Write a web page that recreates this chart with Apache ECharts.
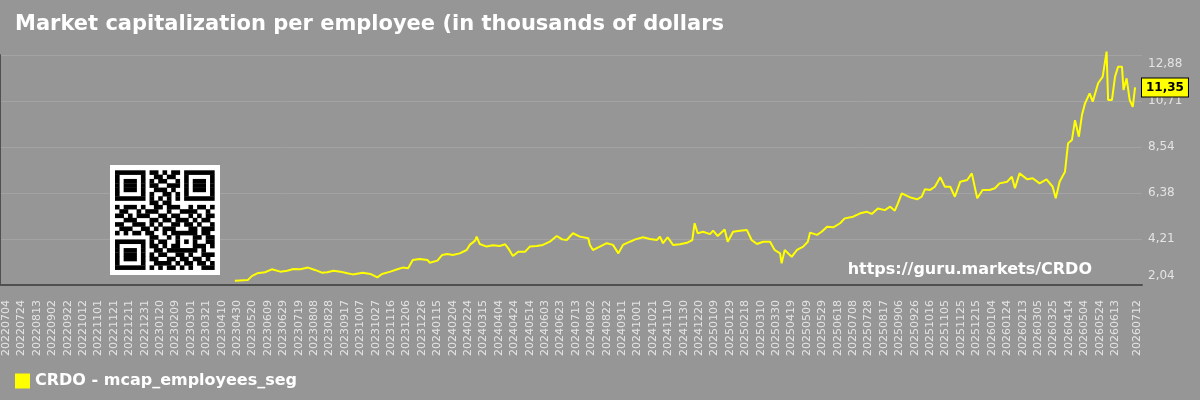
<!DOCTYPE html>
<html>
<head>
    <meta charset="utf-8">
    <title>CRDO - mcap per employee</title>
    <script src="https://cdn.jsdelivr.net/npm/echarts@6/dist/echarts.min.js"></script>
    <style>
        html, body { margin: 0; padding: 0; background: #969696; }
    </style>
</head>
<body>
<div id="main" style="width: 1200px;height:400px;"></div>
<script type="text/javascript">
    // text
    var titleText = 'Market capitalization per employee (in thousands of dollars';
    var seriesName = 'CRDO - mcap_employees_seg';
    var siteText = 'https://guru.markets/CRDO';

    // x axis: one category per calendar day, labels every 20 days (as printed)
    var axisStart = '20220626';
    var axisEnd = '20260718';
    var xTickLabels = [
        '20220704','20220724','20220813','20220902','20220922','20221012','20221101','20221121',
        '20221211','20221231','20230120','20230209','20230301','20230321','20230410','20230430',
        '20230520','20230609','20230629','20230719','20230808','20230828','20230917','20231007',
        '20231027','20231116','20231206','20231226','20240115','20240204','20240224','20240315',
        '20240404','20240424','20240514','20240603','20240623','20240713','20240802','20240822',
        '20240911','20241001','20241021','20241110','20241130','20241220','20250109','20250129',
        '20250218','20250310','20250330','20250419','20250509','20250529','20250618','20250708',
        '20250728','20250817','20250906','20250926','20251016','20251105','20251125','20251215',
        '20260104','20260124','20260213','20260305','20260325','20260414','20260504','20260524',
        '20260613','20260712'
    ];

    // y axis ticks (right side)
    var yTicks = [2.04, 4.21, 6.38, 8.54, 10.71, 12.88];

    // observations: day offset after 20220704, value (thousands of dollars)
    var obsDays = [
        297, 314, 319, 326, 336, 345, 356, 365, 373, 382, 392, 401, 410, 417, 425, 434, 443, 450, 463, 473,
        482, 488, 499, 508, 515, 522, 528, 537, 547, 550, 560, 566, 573, 580, 589, 598, 602, 609, 611, 615,
        624, 632, 641, 648, 652, 658, 665, 674, 680, 689, 697, 706, 715, 722, 728, 736, 745, 756, 758, 762,
        771, 780, 788, 795, 801, 810, 817, 827, 836, 845, 849, 853, 859, 866, 875, 884, 891, 894, 898, 905,
        914, 918, 924, 933, 937, 944, 953, 962, 968, 975, 983, 992, 998, 1005, 1007, 1011, 1020, 1027, 1035, 1041,
        1044, 1053, 1059, 1066, 1074, 1083, 1089, 1100, 1109, 1118, 1124, 1132, 1141, 1148, 1154, 1158, 1163, 1174, 1183, 1189,
        1193, 1200, 1206, 1213, 1219, 1226, 1232, 1239, 1248, 1254, 1261, 1268, 1277, 1284, 1290, 1300, 1306, 1310, 1316, 1326,
        1333, 1342, 1351, 1359, 1363, 1368, 1375, 1379, 1384, 1388, 1393, 1397, 1401, 1407, 1411, 1418, 1424, 1429, 1431, 1436,
        1440, 1444, 1449, 1451, 1455, 1459, 1463, 1466
    ];
    var values = [
        2.24, 2.28, 2.46, 2.59, 2.64, 2.78, 2.67, 2.71, 2.79, 2.78, 2.86, 2.75, 2.62, 2.64, 2.71, 2.67, 2.59, 2.54, 2.62, 2.56,
        2.40, 2.56, 2.67, 2.78, 2.86, 2.83, 3.22, 3.27, 3.22, 3.09, 3.19, 3.45, 3.50, 3.45, 3.53, 3.69, 3.93, 4.13, 4.32, 3.97,
        3.85, 3.91, 3.88, 3.96, 3.77, 3.41, 3.61, 3.61, 3.85, 3.88, 3.93, 4.08, 4.35, 4.19, 4.16, 4.48, 4.32, 4.24, 3.93, 3.69,
        3.85, 4.01, 3.93, 3.53, 3.93, 4.08, 4.19, 4.29, 4.21, 4.16, 4.32, 4.01, 4.29, 3.93, 3.96, 4.03, 4.16, 4.95, 4.48, 4.55,
        4.44, 4.60, 4.35, 4.66, 4.08, 4.55, 4.60, 4.63, 4.16, 3.97, 4.08, 4.08, 3.69, 3.53, 3.06, 3.69, 3.37, 3.69, 3.85, 4.08,
        4.51, 4.40, 4.55, 4.79, 4.76, 4.95, 5.18, 5.26, 5.42, 5.49, 5.39, 5.65, 5.57, 5.73, 5.54, 5.89, 6.36, 6.17, 6.08, 6.20,
        6.55, 6.52, 6.67, 7.12, 6.67, 6.67, 6.20, 6.91, 6.99, 7.30, 6.13, 6.52, 6.52, 6.60, 6.83, 6.91, 7.14, 6.60, 7.30, 7.02,
        7.07, 6.83, 7.02, 6.67, 6.13, 6.91, 7.38, 8.72, 8.87, 9.81, 9.03, 10.05, 10.60, 11.07, 10.68, 11.55, 11.86, 13.04, 10.76, 10.76,
        11.86, 12.33, 12.33, 11.23, 11.78, 10.76, 10.44, 11.35
    ];

    // QR code in the chart (decoration)
    var qrRows = [
        '11111110110101101111111',
        '10000010011011001000001',
        '10111010101100101011101',
        '10111010110011101011101',
        '10111010011101001011101',
        '10000010100110101000001',
        '11111110101010101111111',
        '00000000110110000000000',
        '10111010011011100101101',
        '01100101110010011110010',
        '11010111001101100101011',
        '00111000110110111010110',
        '11001110101001101101001',
        '01110011010111000110111',
        '10101101100101111110110',
        '00000000110010100011011',
        '11111110101100101010011',
        '10000010110101100011101',
        '10111010011011111110100',
        '10111010101100110100111',
        '10111010110011011011010',
        '10000010011110101101101',
        '11111110101011010100111'
    ];

    var myChart = echarts.init(document.getElementById('main'));

    // daily categories
    function fmtDay(d) {
        var m = d.getUTCMonth() + 1, dd = d.getUTCDate();
        return d.getUTCFullYear() + (m < 10 ? '0' : '') + m + (dd < 10 ? '0' : '') + dd;
    }
    var categories = [];
    var cur = new Date(Date.UTC(+axisStart.slice(0, 4), +axisStart.slice(4, 6) - 1, +axisStart.slice(6, 8)));
    while (true) {
        var s = fmtDay(cur);
        categories.push(s);
        if (s === axisEnd) break;
        cur.setUTCDate(cur.getUTCDate() + 1);
    }
    var base = categories.indexOf(xTickLabels[0]);
    var labelSet = {};
    for (var i = 0; i < xTickLabels.length; i++) labelSet[xTickLabels[i]] = true;

    var seriesData = [];
    for (var i = 0; i < obsDays.length; i++) {
        seriesData.push([categories[base + obsDays[i]], values[i]]);
    }
    var lastValue = values[values.length - 1];

    function fmtNum(v) {
        return v.toFixed(2).replace('.', ',');
    }

    // QR graphic, drawn above the grid lines
    var qrX = 115, qrY = 170.3, mod = 4.32;
    var qrChildren = [{
        type: 'rect',
        z: 100,
        shape: {x: 110, y: 165, width: 110, height: 110},
        style: {fill: '#ffffff'}
    }];
    for (var r = 0; r < qrRows.length; r++) {
        var row = qrRows[r], c = 0;
        while (c < row.length) {
            if (row[c] === '1') {
                var start = c;
                while (c < row.length && row[c] === '1') c++;
                qrChildren.push({
                    type: 'rect',
                    z: 101,
                    shape: {x: qrX + start * mod, y: qrY + r * mod, width: (c - start) * mod + 0.3, height: mod + 0.3},
                    style: {fill: '#000000'}
                });
            } else {
                c++;
            }
        }
    }

    var option = {
        backgroundColor: '#969696',
        animation: false,
        title: {
            text: titleText,
            left: 15,
            top: 14,
            padding: 0,
            textStyle: {color: '#ffffff', fontSize: 21, fontWeight: 'bold', fontFamily: 'DejaVu Sans'}
        },
        legend: {
            left: 15,
            top: 373,
            padding: 0,
            icon: 'rect',
            itemWidth: 15,
            itemHeight: 15,
            data: [seriesName],
            textStyle: {color: '#ffffff', fontSize: 16, fontWeight: 'bold', fontFamily: 'DejaVu Sans'}
        },
        grid: {left: 0, right: 58, top: 55, bottom: 115},
        xAxis: {
            type: 'category',
            data: categories,
            boundaryGap: false,
            axisLine: {lineStyle: {color: '#505050', width: 2}},
            axisTick: {show: false},
            splitLine: {show: false},
            axisLabel: {
                interval: function (idx, val) { return labelSet[val] === true; },
                rotate: 90,
                margin: 15,
                color: '#e4e4e4',
                fontSize: 11,
                fontFamily: 'DejaVu Sans'
            }
        },
        yAxis: [{
            type: 'value',
            position: 'right',
            min: yTicks[0],
            max: yTicks[yTicks.length - 1],
            interval: (yTicks[yTicks.length - 1] - yTicks[0]) / (yTicks.length - 1),
            axisLine: {show: false},
            axisTick: {show: false},
            splitLine: {lineStyle: {color: '#a3a3a3', width: 1}},
            axisLabel: {
                margin: 6,
                color: '#e4e4e4',
                fontSize: 12,
                fontFamily: 'DejaVu Sans',
                formatter: fmtNum,
                verticalAlignMinLabel: 'bottom',
                verticalAlignMaxLabel: 'top',
                padding: [3, 0, 3, 0]
            }
        }, {
            type: 'value',
            position: 'left',
            axisLine: {show: true, lineStyle: {color: '#505050', width: 2}},
            axisTick: {show: false},
            axisLabel: {show: false},
            splitLine: {show: false}
        }],
        graphic: [{
            type: 'group',
            children: qrChildren
        }, {
            type: 'text',
            x: 1092,
            y: 270,
            z: 100,
            style: {
                text: siteText,
                fill: '#ffffff',
                font: 'bold 16px "DejaVu Sans"',
                textAlign: 'right',
                textVerticalAlign: 'middle'
            }
        }],
        series: [{
            name: seriesName,
            type: 'line',
            data: seriesData,
            showSymbol: false,
            clip: false,
            color: '#ffff00',
            lineStyle: {color: '#ffff00', width: 2},
            markLine: {
                silent: true,
                symbol: ['none', 'none'],
                lineStyle: {color: 'rgba(0,0,0,0)', width: 0, type: 'solid'},
                label: {
                    show: true,
                    position: 'end',
                    distance: 0,
                    formatter: function () { return fmtNum(lastValue); },
                    color: '#000000',
                    fontWeight: 'bold',
                    fontSize: 12,
                    fontFamily: 'DejaVu Sans',
                    backgroundColor: '#ffff00',
                    borderColor: '#000000',
                    borderWidth: 1,
                    padding: [3, 4, 3, 4]
                },
                data: [{yAxis: lastValue}]
            }
        }]
    };

    myChart.setOption(option);
</script>
</body>
</html>
